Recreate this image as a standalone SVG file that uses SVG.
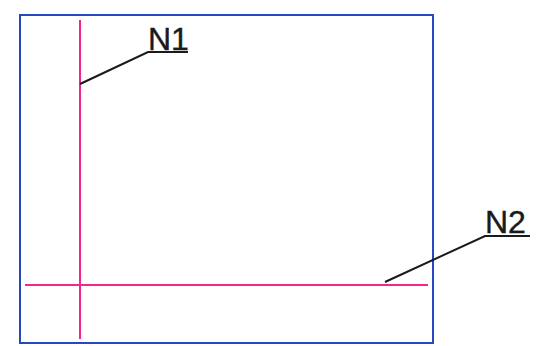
<svg xmlns="http://www.w3.org/2000/svg" width="545" height="346" viewBox="0 0 545 346">
<style>
.frame{fill:none;stroke:#2848c0;stroke-width:2}
.axis{stroke:#f5228f;stroke-width:2;fill:none}
.lead{stroke:#1a1a1a;stroke-width:2;fill:none}
.lbl{font-family:"Liberation Sans",Arial,sans-serif;font-size:32px;fill:#1a1a1a;stroke:#1a1a1a;stroke-width:0.4}
</style>
<rect id="frame" class="frame" x="20" y="15" width="413" height="328"/>
<g id="N1line"><line class="axis" x1="80" y1="20" x2="80" y2="339"/></g>
<g id="N2line"><line class="axis" x1="25" y1="285" x2="428" y2="285"/></g>
<g id="connectors">
<polyline class="lead" points="80,84 148,52 188,52"/>
<polyline class="lead" points="385,282 485,236 530,236"/>
</g>
<g id="N1"><text class="lbl" x="148" y="50">N1</text></g>
<g id="N2"><text class="lbl" x="485" y="233">N2</text></g>
</svg>
